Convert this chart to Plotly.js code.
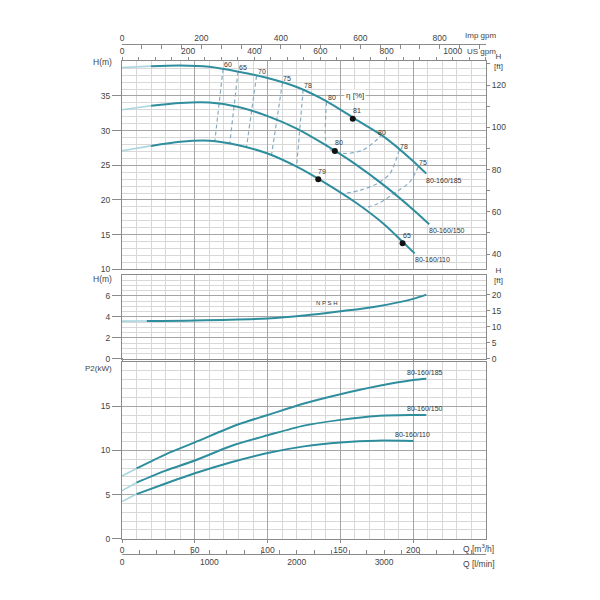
<!DOCTYPE html>
<html><head><meta charset="utf-8">
<script src="https://cdn.plot.ly/plotly-3.0.1.min.js"></script>
<style>html,body{margin:0;padding:0;background:#fff}#chart{width:600px;height:600px}</style>
</head><body><div id="chart"></div>
<script>
// ---------------- data ----------------
const models = ['80-160/185', '80-160/150', '80-160/110'];

// Head curves H [m] vs Q [m3/h]
const qH185 = [0, 20, 40, 60, 80, 100, 120, 140, 160, 180, 200, 209];
const h185  = [39.1, 39.3, 39.4, 39.2, 38.5, 37.6, 36.3, 34.3, 31.7, 29.1, 25.6, 23.8];
const qH150 = [0, 20, 40, 60, 80, 100, 120, 140, 160, 180, 200, 211];
const h150  = [33.0, 33.6, 34.0, 34.05, 33.4, 32.1, 30.3, 27.9, 25.2, 22.1, 18.6, 16.5];
const qH110 = [0, 20, 40, 60, 80, 100, 120, 140, 160, 180, 193, 201];
const h110  = [27.1, 27.8, 28.4, 28.55, 27.9, 26.7, 24.8, 22.4, 19.7, 16.5, 13.9, 12.3];

// Efficiency iso-lines (eta %) : Q and H
const isoEff = [60, 65, 70, 75, 78, 80, 78, 75];
const isoQ = [
  [69.4, 63.7],
  [79.7, 74.0],
  [92.4, 85.5],
  [110.2, 102.7],
  [124.4, 119.9],
  [140.5, 140.5, 145.0, 154.2, 165.6, 174.8, 178.3],
  [190.4, 184.0, 174.8, 163.4, 151.9],
  [203.4, 197.7, 188.0, 176.0, 165.7]
];
const isoH = [
  [38.9, 28.4],
  [38.5, 28.1],
  [37.9, 27.6],
  [36.9, 26.5],
  [35.9, 24.8],
  [34.2, 27.9, 27.0, 26.7, 27.2, 28.65, 29.4],
  [27.2, 23.8, 22.3, 21.4, 20.9],
  [24.8, 22.6, 21.1, 19.5, 18.75]
];
// Efficiency points on the curves
const dotQ   = [158.5, 146.2, 134.8, 192.7];
const dotH   = [31.7, 27.07, 23.0, 13.75];
const dotEff = [81, 80, 79, 65];

// NPSH [m]
const qN   = [0, 17, 50, 100, 125, 150, 175, 200, 209];
const npsh = [3.59, 3.6, 3.65, 3.84, 4.12, 4.53, 5.0, 5.72, 6.12];

// Power P2 [kW]
const qP185 = [0, 10, 30, 50, 80, 100, 125, 150, 175, 200, 209];
const p185  = [7.1, 7.95, 9.55, 10.9, 12.95, 14.0, 15.3, 16.35, 17.25, 17.95, 18.1];
const qP150 = [0, 10, 30, 50, 75, 100, 125, 150, 175, 200, 209];
const p150  = [5.44, 6.34, 7.7, 8.85, 10.5, 11.7, 12.8, 13.45, 13.9, 14.0, 14.0];
const qP110 = [0, 10, 30, 50, 75, 100, 125, 150, 175, 200];
const p110  = [4.2, 5.05, 6.25, 7.4, 8.65, 9.7, 10.45, 10.9, 11.1, 11.05];

// tick labels
const qTicks = [0, 50, 100, 150, 200];
const usTicks = [0, 200, 400, 600, 800, 1000];
const impTicks = [0, 200, 400, 600, 800];
const lminTicks = [0, 1000, 2000, 3000];
const hTicks = [10, 15, 20, 25, 30, 35];
const ftTicks = [40, 60, 80, 100, 120];
const npshTicks = [0, 2, 4, 6];
const npshFtTicks = [0, 5, 10, 15, 20];
const pTicks = [0, 5, 10, 15];

// unit conversions
const Q_MAX = 250;
const TO_USGPM = 4.4029, TO_IMPGPM = 3.6662, TO_LMIN = 16.6667, M_TO_FT = 3.28084;

// ---------------- styling ----------------
const MAIN = '#2f8e9e', LIGHT = '#a9d5de', ISO = '#86acc2';
const FONT = 'Liberation Sans, Arial, sans-serif';
const tickFont = {family: FONT, size: 8.5, color: '#444'};
const MAJ = '#a5a5a5', MIN = '#d8d8d8', LINE = '#8a8a8a';

const traces = [];
function curve(q, v, yaxis) {
  traces.push({x: q.slice(0, 2), y: v.slice(0, 2), xaxis: 'x', yaxis: yaxis, mode: 'lines',
    line: {color: LIGHT, width: 1.6}, hoverinfo: 'skip', showlegend: false});
  traces.push({x: q.slice(1), y: v.slice(1), xaxis: 'x', yaxis: yaxis, mode: 'lines',
    line: {color: MAIN, width: 2, shape: 'spline', smoothing: 0.8}, hoverinfo: 'skip', showlegend: false});
}
isoQ.forEach((q, i) => {
  traces.push({x: q, y: isoH[i], xaxis: 'x', yaxis: 'y', mode: 'lines',
    line: {color: ISO, width: 1.2, dash: '4px,3px', shape: 'spline', smoothing: 0.8},
    hoverinfo: 'skip', showlegend: false});
});
curve(qH185, h185, 'y');
curve(qH150, h150, 'y');
curve(qH110, h110, 'y');
traces.push({x: dotQ, y: dotH, xaxis: 'x', yaxis: 'y', mode: 'markers',
  marker: {color: '#111', size: 6}, hoverinfo: 'skip', showlegend: false});
curve(qN, npsh, 'y2');
curve(qP185, p185, 'y3');
curve(qP150, p150, 'y3');
curve(qP110, p110, 'y3');
[['x4', 'y'], ['x5', 'y'], ['x6', 'y3'], ['x', 'y4'], ['x', 'y5']].forEach(([xa, ya]) => {
  traces.push({x: [null], y: [null], xaxis: xa, yaxis: ya, mode: 'markers', hoverinfo: 'skip', showlegend: false});
});

// ---------------- annotations ----------------
const ann = [];
const small = {family: FONT, size: 7, color: '#333'};
isoEff.forEach((e, i) => {
  ann.push({x: isoQ[i][0], y: isoH[i][0], xref: 'x', yref: 'y', text: String(e), showarrow: false,
    xanchor: 'left', yanchor: 'middle', xshift: -1, yshift: 4, font: small});
});
ann.push({x: isoQ[5][isoQ[5].length - 1], y: isoH[5][isoH[5].length - 1], xref: 'x', yref: 'y',
  text: String(isoEff[5]), showarrow: false, xanchor: 'center', yanchor: 'middle', yshift: 2, font: small});
dotEff.forEach((e, i) => {
  ann.push({x: dotQ[i], y: dotH[i], xref: 'x', yref: 'y', text: String(e), showarrow: false,
    xanchor: 'center', yanchor: 'middle', xshift: 4, yshift: 8, font: small});
});
[[qH185, h185], [qH150, h150], [qH110, h110]].forEach(([q, h], i) => {
  ann.push({x: q[q.length - 1], y: h[h.length - 1], xref: 'x', yref: 'y', text: models[i], showarrow: false,
    xanchor: 'left', yanchor: 'top', xshift: -2, yshift: -1, font: small});
});
[[qP185, p185], [qP150, p150], [qP110, p110]].forEach(([q, p], i) => {
  ann.push({x: q[q.length - 1], y: p[p.length - 1], xref: 'x', yref: 'y3', text: models[i], showarrow: false,
    xanchor: 'center', yanchor: 'bottom', xshift: -1, yshift: 1, font: small});
});
ann.push({x: 160, y: 35, xref: 'x', yref: 'y', text: 'η [%]', showarrow: false, bgcolor: '#fff',
  borderpad: 1, font: {family: FONT, size: 8, color: '#333'}});
ann.push({x: 141, y: 5.28, xref: 'x', yref: 'y2', text: 'N P S H', showarrow: false,
  font: {family: FONT, size: 6, color: '#333'}});

const W = 364, TOP = 44, BOT = 554, HP = BOT - TOP;
const px = v => (v - 122) / W;
const py = v => (BOT - v) / HP;
const lab = (text, x, y, xa, size) => ({xref: 'paper', yref: 'paper', x: px(x), y: py(y),
  text: text, showarrow: false, xanchor: xa, yanchor: 'middle', font: {family: FONT, size: size || 8.5, color: '#444'}});
ann.push(lab('H(m)', 114, 62.5, 'right'));
ann.push(lab('H(m)', 114, 278.5, 'right'));
ann.push(lab('P2(kW)', 114, 368, 'right', 8));
ann.push(lab('H<br>[ft]', 498, 62, 'center', 8));
ann.push(lab('H<br>[ft]', 498, 275, 'center', 8));
ann.push(lab('Imp gpm', 498, 35, 'right', 8));
ann.push(lab('US gpm', 498, 51.5, 'right', 8));
ann.push(lab('Q [m<sup>3</sup>/h]', 496, 548, 'right'));
ann.push(lab('Q [l/min]', 497, 564, 'right'));

// ---------------- layout ----------------
const baseY = (extra) => Object.assign({anchor: 'x', tickmode: 'array', ticks: 'outside', ticklen: 9,
  tickcolor: LINE, showline: true, linecolor: LINE, linewidth: 1, mirror: true, showgrid: true,
  gridcolor: MAJ, zeroline: false, tickfont: tickFont, fixedrange: true}, extra);

const layout = {
  width: 600, height: 600,
  margin: {l: 122, r: 114, t: TOP, b: 600 - BOT},
  paper_bgcolor: '#fff', plot_bgcolor: '#fff',
  showlegend: false,
  xaxis: {domain: [0, 1], range: [0, Q_MAX], anchor: 'y3', tickmode: 'array', tickvals: qTicks,
    ticks: 'outside', ticklen: 3, tickcolor: LINE, showline: true, linecolor: LINE, mirror: 'all',
    showgrid: true, gridcolor: MAJ, zeroline: false, tickfont: tickFont,
    minor: {dtick: 10, tick0: 0, showgrid: true, gridcolor: MIN, ticks: ''}},
  yaxis: baseY({domain: [py(269.3), py(61.3)], range: [10, 40], tickvals: hTicks,
    minor: {dtick: 1, tick0: 0, showgrid: true, gridcolor: MIN, ticks: ''}}),
  yaxis2: baseY({domain: [py(358.7), py(275)], range: [0, 8], tickvals: npshTicks,
    minor: {dtick: 0.5, tick0: 0, showgrid: true, gridcolor: MIN, ticks: ''}}),
  yaxis3: baseY({domain: [py(538.7), py(362)], range: [0, 20], tickvals: pTicks,
    minor: {dtick: 1, tick0: 0, showgrid: true, gridcolor: MIN, ticks: ''}}),
  yaxis4: {overlaying: 'y', side: 'right', anchor: 'x', range: [10 * M_TO_FT, 40 * M_TO_FT],
    tickmode: 'array', tickvals: ftTicks, ticks: 'outside', ticklen: 3, tickcolor: LINE,
    showgrid: false, showline: false, zeroline: false, tickfont: tickFont, fixedrange: true,
    minor: {dtick: 10, tick0: 0, ticks: 'outside', ticklen: 3, tickcolor: LINE, showgrid: false}},
  yaxis5: {overlaying: 'y2', side: 'right', anchor: 'x', range: [0, 8 * M_TO_FT],
    tickmode: 'array', tickvals: npshFtTicks, ticks: 'outside', ticklen: 3, tickcolor: LINE,
    showgrid: false, showline: false, zeroline: false, tickfont: tickFont, fixedrange: true},
  xaxis4: {overlaying: 'x', anchor: 'y', side: 'top', range: [0, Q_MAX * TO_USGPM],
    tickmode: 'array', tickvals: usTicks, ticks: 'outside', ticklen: 3, tickcolor: LINE,
    showgrid: false, showline: false, zeroline: false, tickfont: tickFont,
    minor: {dtick: 50, tick0: 0, ticks: 'outside', ticklen: 3, tickcolor: LINE, showgrid: false}},
  xaxis5: {overlaying: 'x', anchor: 'free', position: 1, side: 'top', range: [0, Q_MAX * TO_IMPGPM],
    tickmode: 'array', tickvals: impTicks, ticks: 'inside', ticklen: 4, tickcolor: LINE,
    showgrid: false, showline: true, linecolor: LINE, zeroline: false, tickfont: tickFont,
    minor: {dtick: 50, tick0: 0, ticks: 'inside', ticklen: 4, tickcolor: LINE, showgrid: false}},
  xaxis6: {overlaying: 'x', anchor: 'free', position: 0, side: 'bottom', range: [0, Q_MAX * TO_LMIN],
    tickmode: 'array', tickvals: lminTicks, ticks: 'inside', ticklen: 4, tickcolor: LINE,
    showgrid: false, showline: true, linecolor: LINE, zeroline: false, tickfont: tickFont,
    minor: {dtick: 200, tick0: 0, ticks: 'inside', ticklen: 4, tickcolor: LINE, showgrid: false}},
  annotations: ann
};

Plotly.newPlot('chart', traces, layout, {staticPlot: true, displayModeBar: false});
</script>
</body></html>
